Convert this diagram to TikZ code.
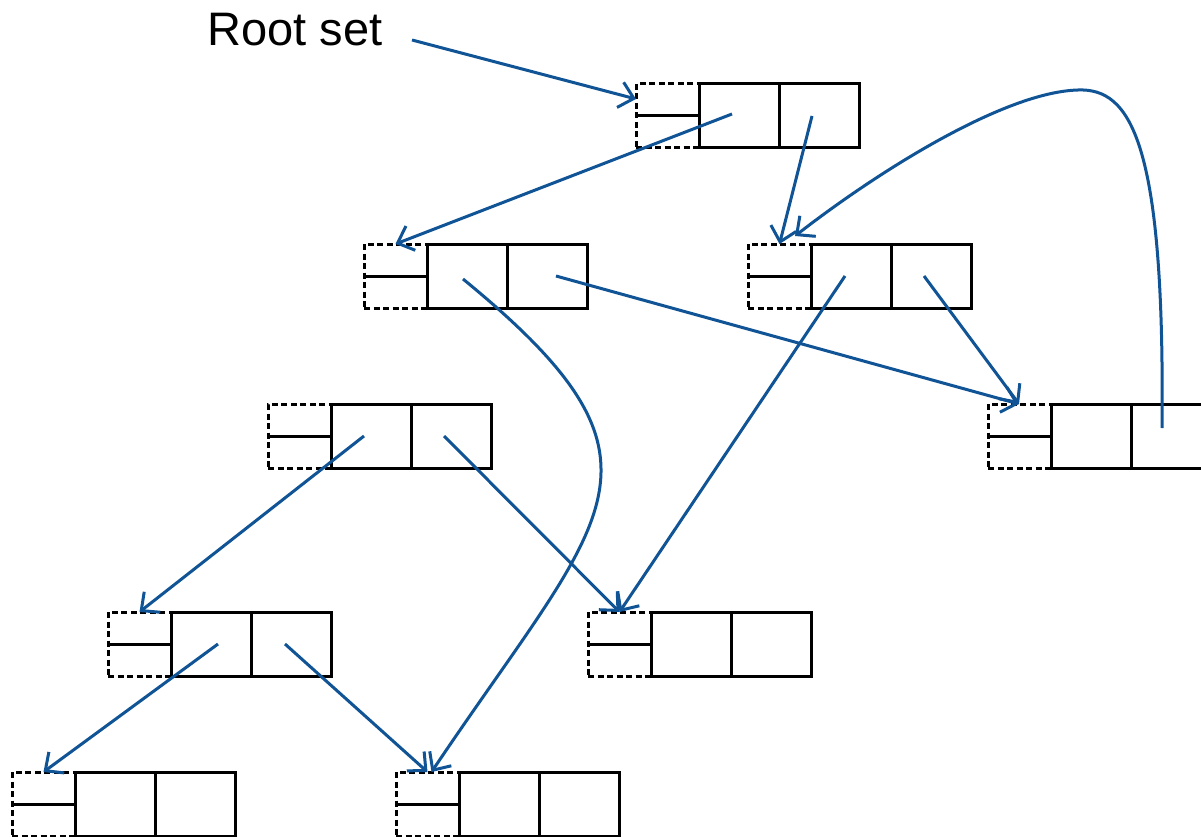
\documentclass[tikz,border=0pt]{standalone}
\usepackage{fontspec}
\newfontfamily\arialf{Liberation Sans}
\usetikzlibrary{arrows.meta,calc}
\definecolor{ptr}{RGB}{16,84,150}
\tikzset{
  dbox/.style={draw=black, line width=3pt, dash pattern=on 6pt off 3.5pt, minimum width=63pt, minimum height=64pt, inner sep=0pt, outer sep=0pt, anchor=north west},
  cellbox/.style={draw=black, line width=3pt, minimum width=80pt, minimum height=64pt, inner sep=0pt, outer sep=0pt, anchor=north west},
  ptrline/.style={draw=ptr, line width=3pt, -{Straight Barb[length=14pt,width=26pt,line width=3pt]}},
  rootlabel/.style={font=\arialf\fontsize{47}{56}\selectfont, inner sep=0pt, anchor=base west},
}
\newcommand\objrec[3]{%
  \node[dbox] (#1-d) at (#2,#3) {};
  \draw[line width=3pt] (#1-d.west) -- (#1-d.east);
  \node[cellbox] (#1-a) at (#1-d.north east) {};
  \node[cellbox] (#1-b) at (#1-a.north east) {};
}
\begin{document}
\begin{tikzpicture}[x=1pt,y=-1pt]
\useasboundingbox (0,0) rectangle (1201,837);
\clip (0,0) rectangle (1201,837);
\fill[white] (0,0) rectangle (1201,837);

\node[rootlabel] (root) at (207.5,46) {Root set};

\objrec{A}{636}{84}
\objrec{B}{364}{244}
\objrec{C}{748}{244}
\objrec{D}{988}{404}
\objrec{E}{268}{404}
\objrec{F}{108}{612}
\objrec{G}{588}{612}
\objrec{H}{12}{772}
\objrec{I}{396}{772}

% free start points inside cells
\coordinate (rs) at (412,40);
\coordinate (A1) at (732,114);
\coordinate (A2) at (812,116);
\coordinate (B1) at (463,279);
\coordinate (B2) at (556,276);
\coordinate (C1) at (845,276);
\coordinate (C2) at (924,276);
\coordinate (D2) at (1162,428);
\coordinate (E1) at (364,436);
\coordinate (E2) at (444,436);
\coordinate (F1) at (218,644);
\coordinate (F2) at (285,644);
\coordinate (Ctop) at (795,236);
\coordinate (Dtop) at (1019,404);

\draw[ptrline] (rs) -- ([yshift=-15pt]A-d.north west);
\draw[ptrline] (A1) -- (B-d.north);
\draw[ptrline] (A2) -- (C-d.north);
\draw[ptrline] (D2) .. controls (1165,140) and (1130,88) .. (1078,90)
                    .. controls (1005,92) and (880,170) .. (Ctop);
\draw[ptrline] (B1) .. controls (690,465) and (606,512) .. ([xshift=4pt]I-d.north);
\draw[ptrline] (B2) -- (Dtop);
\draw[ptrline] (C1) -- (G-d.north);
\draw[ptrline] (C2) -- (Dtop);
\draw[ptrline] (E1) -- (F-d.north);
\draw[ptrline] (E2) -- (G-d.north);
\draw[ptrline] (F1) -- (H-d.north);
\draw[ptrline] (F2) -- (I-d.north);
\end{tikzpicture}
\end{document}
